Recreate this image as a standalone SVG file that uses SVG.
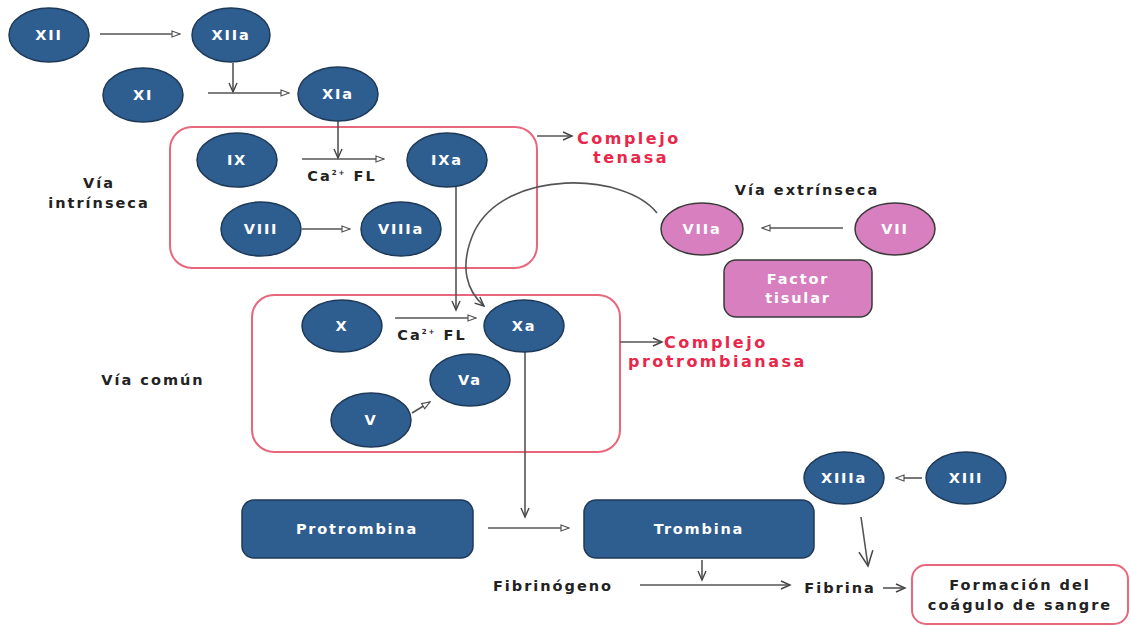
<svg xmlns="http://www.w3.org/2000/svg" width="1131" height="626" viewBox="0 0 1131 626">
<style>
.n{fill:#2e5d90;stroke:#1e3a58;stroke-width:1.5}
.p{fill:#d77fbf;stroke:#3a3a3a;stroke-width:1.5}
.box{fill:none;stroke:#e8677c;stroke-width:2}
.t{font-family:"DejaVu Sans",sans-serif;font-weight:bold;font-size:14.5px;fill:#fff;text-anchor:middle;letter-spacing:1.8px}
.k{font-family:"DejaVu Sans",sans-serif;font-weight:bold;font-size:14.5px;fill:#222;text-anchor:middle;letter-spacing:2px}
.r{font-family:"DejaVu Sans",sans-serif;font-weight:bold;font-size:16px;fill:#e8274b;letter-spacing:2.5px}
.c{fill:none;stroke:#555;stroke-width:1.6}
</style>
<defs>
<marker id="a" markerWidth="10" markerHeight="8" refX="9" refY="4" orient="auto" markerUnits="userSpaceOnUse">
<path d="M1,1 L9,4 L1,7 Z" fill="#fff" stroke="#555" stroke-width="1.2"/>
</marker>
<marker id="v" markerWidth="12" markerHeight="10" refX="10" refY="5" orient="auto" markerUnits="userSpaceOnUse">
<path d="M1,1 L10,5 L1,9" fill="none" stroke="#444" stroke-width="1.4"/>
</marker>
<marker id="V" markerWidth="18" markerHeight="16" refX="16" refY="8" orient="auto" markerUnits="userSpaceOnUse">
<path d="M1,1 L16,8 L1,15" fill="none" stroke="#444" stroke-width="1.5"/>
</marker>
</defs>

<g id="box-tenasa"><rect class="box" x="170" y="127" width="367" height="141" rx="22"/></g>
<g id="box-protrombinasa"><rect class="box" x="252" y="295" width="368" height="157" rx="22"/></g>

<g id="connectors">
<line class="c" x1="100" y1="34" x2="180" y2="34" marker-end="url(#a)"/>
<line class="c" x1="233" y1="63" x2="233" y2="92" marker-end="url(#v)"/>
<line class="c" x1="208" y1="93" x2="289" y2="93" marker-end="url(#a)"/>
<line class="c" x1="338" y1="120" x2="338" y2="158" marker-end="url(#v)"/>
<line class="c" x1="302" y1="159" x2="384" y2="159" marker-end="url(#a)"/>
<line class="c" x1="302" y1="229" x2="350" y2="229" marker-end="url(#a)"/>
<line class="c" x1="537" y1="136" x2="572" y2="136" marker-end="url(#v)"/>
<line class="c" x1="456" y1="186" x2="456" y2="310" marker-end="url(#v)"/>
<path class="c" d="M657 213 C 625 172, 505 168, 474 232 C 458 268, 468 292, 484 306" marker-end="url(#v)"/>
<line class="c" x1="843" y1="228" x2="762" y2="228" marker-end="url(#a)"/>
<line class="c" x1="395" y1="318" x2="476" y2="318" marker-end="url(#a)"/>
<line class="c" x1="412" y1="413" x2="430" y2="402" marker-end="url(#a)"/>
<line class="c" x1="620" y1="342" x2="662" y2="342" marker-end="url(#v)"/>
<line class="c" x1="525" y1="352" x2="525" y2="517" marker-end="url(#v)"/>
<line class="c" x1="488" y1="528" x2="569" y2="528" marker-end="url(#a)"/>
<line class="c" x1="702" y1="560" x2="702" y2="580" marker-end="url(#v)"/>
<line class="c" x1="640" y1="585" x2="790" y2="585" marker-end="url(#v)"/>
<line class="c" x1="883" y1="588" x2="905" y2="588" marker-end="url(#v)"/>
<line class="c" x1="922" y1="478" x2="896" y2="478" marker-end="url(#a)"/>
<line class="c" x1="861" y1="517" x2="868" y2="566" marker-end="url(#V)"/>
</g>

<g id="XII"><ellipse class="n" cx="49" cy="35" rx="40" ry="27"/><text class="t" x="49" y="40">XII</text></g>
<g id="XIIa"><ellipse class="n" cx="231" cy="35" rx="39" ry="27"/><text class="t" x="231" y="40">XIIa</text></g>
<g id="XI"><ellipse class="n" cx="143" cy="95" rx="40" ry="27"/><text class="t" x="143" y="100">XI</text></g>
<g id="XIa"><ellipse class="n" cx="338" cy="94" rx="40" ry="27"/><text class="t" x="338" y="99">XIa</text></g>
<g id="IX"><ellipse class="n" cx="237" cy="160" rx="40" ry="27"/><text class="t" x="237" y="165">IX</text></g>
<g id="IXa"><ellipse class="n" cx="447" cy="160" rx="40" ry="27"/><text class="t" x="447" y="165">IXa</text></g>
<g id="VIII"><ellipse class="n" cx="261" cy="229" rx="40" ry="27"/><text class="t" x="261" y="234">VIII</text></g>
<g id="VIIIa"><ellipse class="n" cx="401" cy="229" rx="40" ry="27"/><text class="t" x="401" y="234">VIIIa</text></g>
<g id="label-ca1"><text class="k" x="342" y="181" letter-spacing="1">Ca<tspan font-size="7" dy="-6">2+</tspan><tspan dy="6"> FL</tspan></text></g>
<g id="label-intrinseca"><text class="k" x="99" y="188" font-size="15">Vía</text><text class="k" x="99" y="208" font-size="15">intrínseca</text></g>
<g id="label-tenasa"><text class="r" x="577" y="144">Complejo</text><text class="r" x="593" y="163">tenasa</text></g>

<g id="label-extrinseca"><text class="k" x="807" y="195" font-size="15">Vía extrínseca</text></g>
<g id="VIIa"><ellipse class="p" cx="702" cy="229" rx="41" ry="26"/><text class="t" x="702" y="234">VIIa</text></g>
<g id="VII"><ellipse class="p" cx="895" cy="229" rx="40" ry="26"/><text class="t" x="895" y="234">VII</text></g>
<g id="factor-tisular"><rect class="p" x="724" y="260" width="148" height="57" rx="12"/><text class="t" x="798" y="284">Factor</text><text class="t" x="798" y="303">tisular</text></g>

<g id="X"><ellipse class="n" cx="342" cy="326" rx="40" ry="26"/><text class="t" x="342" y="331">X</text></g>
<g id="Xa"><ellipse class="n" cx="524" cy="326" rx="40" ry="26"/><text class="t" x="524" y="331">Xa</text></g>
<g id="Va"><ellipse class="n" cx="470" cy="380" rx="40" ry="26"/><text class="t" x="470" y="385">Va</text></g>
<g id="V"><ellipse class="n" cx="371" cy="420" rx="40" ry="27"/><text class="t" x="371" y="425">V</text></g>
<g id="label-ca2"><text class="k" x="432" y="340" letter-spacing="1">Ca<tspan font-size="7" dy="-6">2+</tspan><tspan dy="6"> FL</tspan></text></g>
<g id="label-comun"><text class="k" x="153" y="385" font-size="15">Vía común</text></g>
<g id="label-protrombinasa"><text class="r" x="664" y="348">Complejo</text><text class="r" x="628" y="367">protrombianasa</text></g>

<g id="protrombina"><rect class="n" x="242" y="500" width="231" height="58" rx="12"/><text class="t" x="357" y="534">Protrombina</text></g>
<g id="trombina"><rect class="n" x="584" y="500" width="230" height="58" rx="12"/><text class="t" x="699" y="534">Trombina</text></g>
<g id="XIIIa"><ellipse class="n" cx="844" cy="478" rx="40" ry="26"/><text class="t" x="844" y="483">XIIIa</text></g>
<g id="XIII"><ellipse class="n" cx="966" cy="478" rx="40" ry="26"/><text class="t" x="966" y="483">XIII</text></g>
<g id="label-fibrinogeno"><text class="k" x="553" y="591">Fibrinógeno</text></g>
<g id="label-fibrina"><text class="k" x="840" y="593">Fibrina</text></g>
<g id="formacion"><rect x="912" y="565" width="216" height="59" rx="14" fill="#fff" stroke="#e8677c" stroke-width="2"/><text class="k" x="1020" y="590" font-size="13.5" letter-spacing="1.5">Formación del</text><text class="k" x="1020" y="610" font-size="13.5" letter-spacing="1.5">coágulo de sangre</text></g>
</svg>
